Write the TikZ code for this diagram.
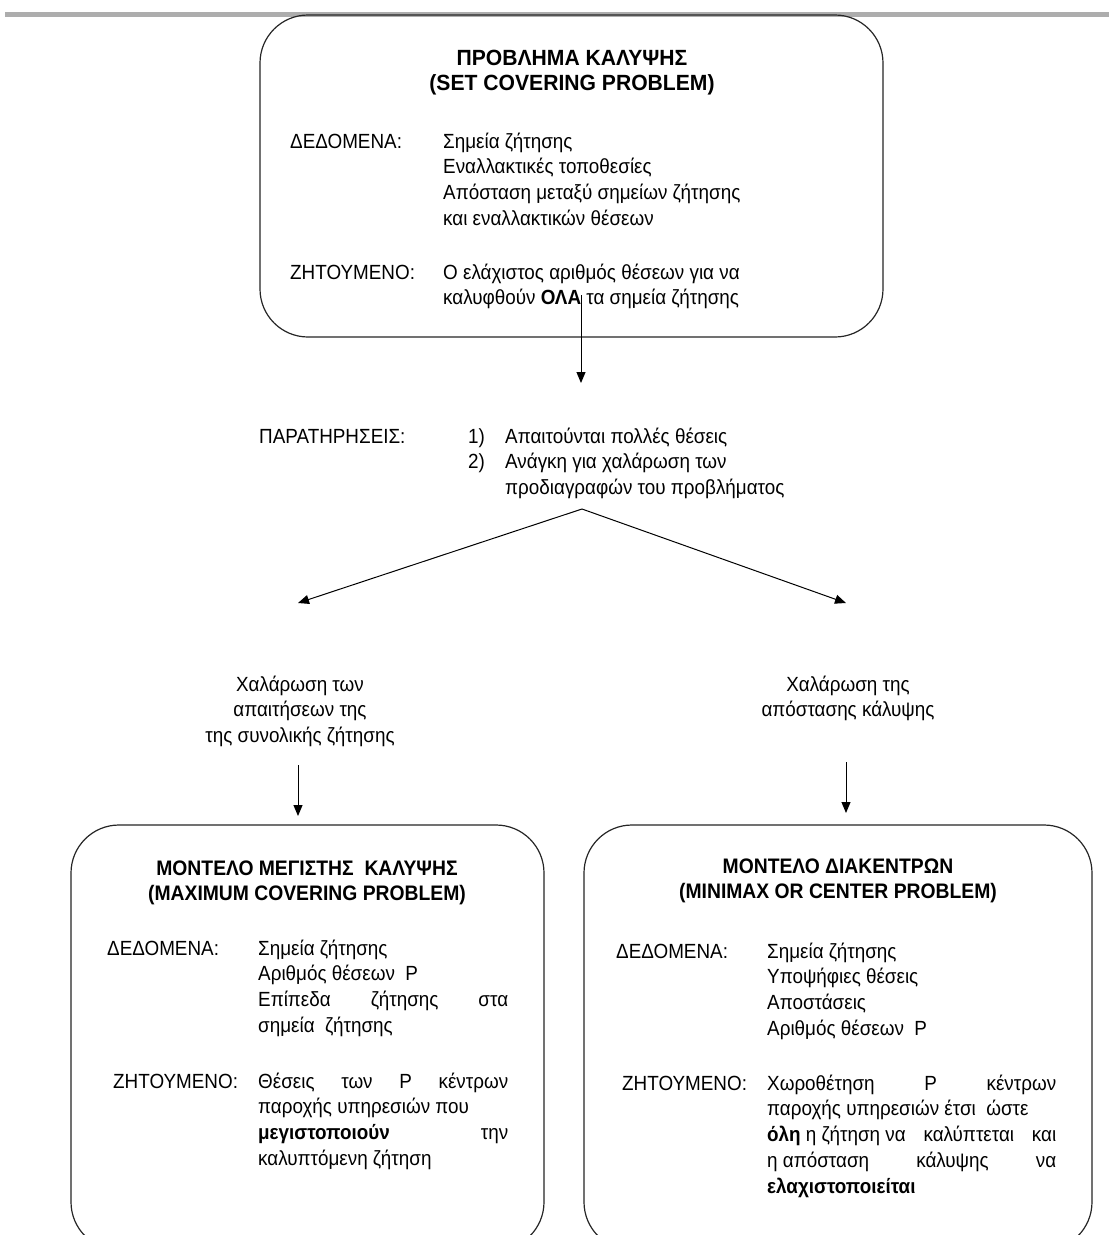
\documentclass[tikz,border=0pt]{standalone}
\usepackage{fontspec}
\setmainfont{Liberation Sans}[FakeStretch=0.92]
\newfontfamily\ttlfont{Liberation Sans}[FakeStretch=0.96]
\usetikzlibrary{arrows.meta}
\tikzset{
  rbox/.style={draw=black!85, line width=1.2pt, rounded corners=48pt, inner sep=0pt},
  txt/.style={anchor=base west, inner sep=0pt, font=\fontsize{20.5}{25.5}\selectfont},
  ctxt/.style={anchor=base, inner sep=0pt, font=\fontsize{20.5}{25.5}\selectfont},
  ttl/.style={anchor=base, inner sep=0pt, font=\ttlfont\fontsize{22}{25.5}\selectfont\bfseries},
  sttl/.style={anchor=base, inner sep=0pt, font=\fontsize{21}{25.5}\selectfont\bfseries},
  arr/.style={draw=black, line width=1pt, -{Triangle[length=11pt,width=9pt]}}
}
\newcommand{\lines}[1]{\vtop{\baselineskip=25.8pt\lineskiplimit=-20pt #1}}
\begin{document}
\begin{tikzpicture}[x=1pt,y=1pt]
\useasboundingbox (0,0) rectangle (1109,-1235);
\clip (0,0) rectangle (1109,-1235);
\fill[white] (0,0) rectangle (1109,-1235);
% grey rule at the top
\draw[line width=5pt, black!32] (5,-14) -- (1109,-14);

% boxes
\node[rbox, minimum width=623pt, minimum height=322pt] (topbox) at (571.5,-176) {};
\node[rbox, minimum width=473pt, minimum height=425pt] (leftbox) at (307.5,-1037.5) {};
\node[rbox, minimum width=508pt, minimum height=425pt] (rightbox) at (838,-1037.5) {};

% top box text
\node[ttl] (t1) at (572,-65) {\lines{\hbox to 0pt{\hss ΠΡΟΒΛΗΜΑ ΚΑΛΥΨΗΣ\hss}\hbox to 0pt{\hss (SET COVERING PROBLEM)\hss}}};
\node[txt] (t2) at (290,-148) {ΔΕΔΟΜΕΝΑ:};
\node[txt] (t3) at (443,-148) {\lines{\hbox{Σημεία ζήτησης}\hbox{Εναλλακτικές τοποθεσίες}\hbox{Απόσταση μεταξύ σημείων ζήτησης}\hbox{και εναλλακτικών θέσεων}}};
\node[txt] (t4) at (290,-279) {ΖΗΤΟΥΜΕΝΟ:};
\node[txt] (t5) at (443,-279) {\lines{\hbox{Ο ελάχιστος αριθμός θέσεων για να}\hbox{καλυφθούν \textbf{ΟΛΑ} τα σημεία ζήτησης}}};

% observations
\node[txt] (o1) at (259,-443) {ΠΑΡΑΤΗΡΗΣΕΙΣ:};
\node[txt] (o2) at (468,-443) {\lines{\hbox{1)}\hbox{2)}}};
\node[txt] (o3) at (505,-443) {\lines{\hbox{Απαιτούνται πολλές θέσεις}\hbox{Ανάγκη για χαλάρωση των}\hbox{προδιαγραφών του προβλήματος}}};

% relaxation labels
\node[ctxt] (l1) at (300,-691) {\lines{\hbox to 0pt{\hss Χαλάρωση των\hss}\hbox to 0pt{\hss απαιτήσεων της\hss}\hbox to 0pt{\hss της συνολικής ζήτησης\hss}}};
\node[ctxt] (r1) at (848,-691) {\lines{\hbox to 0pt{\hss Χαλάρωση της\hss}\hbox to 0pt{\hss απόστασης κάλυψης\hss}}};

% left box text
\node[sttl] (lt) at (307,-875) {\lines{\hbox to 0pt{\hss ΜΟΝΤΕΛΟ ΜΕΓΙΣΤΗΣ\ \ ΚΑΛΥΨΗΣ\hss}\hbox to 0pt{\hss (MAXIMUM COVERING PROBLEM)\hss}}};
\node[txt] (ld) at (107,-955) {ΔΕΔΟΜΕΝΑ:};
\node[txt] (ldi) at (258,-955) {\lines{\hbox{Σημεία ζήτησης}\hbox{Αριθμός θέσεων\ \ P}\hbox to 250pt{Επίπεδα\hfill ζήτησης\hfill στα}\hbox{σημεία\ \ ζήτησης}}};
\node[txt] (lz) at (113,-1088) {ΖΗΤΟΥΜΕΝΟ:};
\node[txt] (lzi) at (258,-1088) {\lines{\hbox to 250pt{Θέσεις\hfill των\hfill P\hfill κέντρων}\hbox{παροχής υπηρεσιών που}\hbox to 250pt{\textbf{μεγιστοποιούν}\hfill την}\hbox{καλυπτόμενη ζήτηση}}};

% right box text
\node[sttl] (rt) at (838,-873) {\lines{\hbox to 0pt{\hss ΜΟΝΤΕΛΟ ΔΙΑΚΕΝΤΡΩΝ\hss}\hbox to 0pt{\hss (MINIMAX OR CENTER PROBLEM)\hss}}};
\node[txt] (rd) at (616,-958) {ΔΕΔΟΜΕΝΑ:};
\node[txt] (rdi) at (767,-958) {\lines{\hbox{Σημεία ζήτησης}\hbox{Υποψήφιες θέσεις}\hbox{Αποστάσεις}\hbox{Αριθμός θέσεων\ \ P}}};
\node[txt] (rz) at (622,-1090) {ΖΗΤΟΥΜΕΝΟ:};
\node[txt] (rzi) at (767,-1090) {\lines{\hbox to 289pt{Χωροθέτηση\hfill P\hfill κέντρων}\hbox{παροχής υπηρεσιών έτσι\ \ ώστε}\hbox to 289pt{\textbf{όλη} η ζήτηση να\hfill καλύπτεται\hfill και}\hbox to 289pt{η απόσταση\hfill κάλυψης\hfill να}\hbox{\textbf{ελαχιστοποιείται}}}};

% connectors
\coordinate (a0) at (581,-295);
\coordinate (a1) at (581,-383);
\coordinate (fork) at (582,-509);
\coordinate (fl) at (298,-603);
\coordinate (fr) at (846,-603);
\coordinate (dl0) at (298,-765);
\coordinate (dl1) at (298,-816);
\coordinate (dr0) at (846,-762);
\coordinate (dr1) at (846,-813);
\draw[arr] (a0) -- (a1);
\draw[arr] (fork) -- (fl);
\draw[arr] (fork) -- (fr);
\draw[arr] (dl0) -- (dl1);
\draw[arr] (dr0) -- (dr1);
\end{tikzpicture}
\end{document}
